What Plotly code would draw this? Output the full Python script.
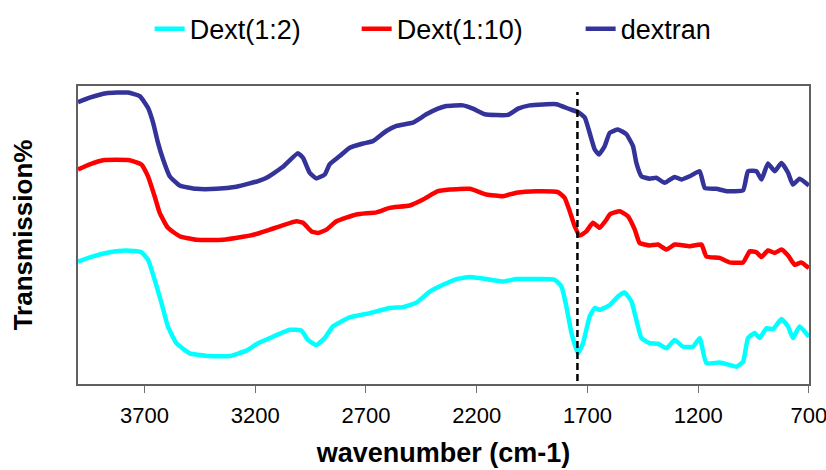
import plotly.graph_objects as go

# FTIR spectra: wavenumber (cm-1) vs. relative transmission (offset traces)
dext12_wn = [4000, 3932, 3857, 3781, 3714, 3684, 3654, 3623, 3594, 3556, 3496, 3405,
             3315, 3240, 3187, 3134, 3044, 2991, 2962, 2924, 2886, 2849, 2773, 2683,
             2593, 2533, 2472, 2412, 2352, 2291, 2231, 2156, 2081, 2021, 1930, 1848,
             1817, 1795, 1772, 1743, 1720, 1690, 1667, 1645, 1599, 1562, 1532, 1501,
             1479, 1456, 1419, 1381, 1343, 1306, 1268, 1223, 1193, 1163, 1103, 1058,
             1027, 997, 975, 945, 922, 892, 862, 824, 794, 772, 742, 700]
dext12_t = [41.1, 42.8, 44.2, 44.8, 44.2, 41.7, 35.0, 27.1, 19.3, 13.7, 10.3, 9.4,
            9.4, 11.2, 13.7, 15.4, 18.2, 17.9, 14.8, 13.1, 15.4, 19.3, 22.4, 23.8,
            25.5, 25.8, 27.3, 31.0, 33.3, 35.2, 35.9, 35.2, 34.4, 35.2, 35.2, 35.0,
            32.7, 26.0, 17.1, 10.3, 13.7, 22.6, 25.5, 24.9, 26.5, 29.4, 30.7, 27.7,
            21.5, 15.4, 13.7, 13.5, 12.0, 14.8, 12.5, 12.5, 15.4, 7.0, 7.2, 6.4,
            5.8, 7.5, 15.4, 17.1, 15.4, 18.7, 18.4, 21.8, 19.3, 15.4, 19.3, 15.9]

dext110_wn = [4000, 3947, 3887, 3767, 3714, 3684, 3654, 3631, 3594, 3541, 3465, 3345,
              3255, 3225, 3187, 3134, 3014, 2984, 2946, 2916, 2878, 2833, 2743, 2653,
              2593, 2502, 2442, 2375, 2322, 2231, 2156, 2081, 2021, 1930, 1833, 1803,
              1780, 1757, 1735, 1705, 1675, 1645, 1614, 1599, 1554, 1517, 1486, 1464,
              1419, 1381, 1343, 1306, 1238, 1185, 1163, 1103, 1058, 997, 967, 937,
              914, 885, 854, 824, 794, 764, 734, 700]
dext110_t = [72.0, 73.7, 75.1, 75.1, 73.7, 69.7, 63.0, 57.4, 52.4, 49.6, 48.4, 48.4,
             49.4, 49.8, 50.5, 51.8, 54.6, 54.1, 51.2, 50.7, 51.8, 54.6, 56.9, 57.6,
             59.1, 59.9, 61.9, 64.7, 65.3, 65.5, 63.6, 63.0, 64.2, 64.7, 64.4, 62.5,
             58.0, 52.9, 49.8, 51.2, 54.1, 52.4, 55.2, 56.9, 58.0, 56.3, 51.8, 47.3,
             46.5, 46.8, 45.1, 46.8, 46.2, 46.8, 42.8, 42.3, 40.8, 40.8, 44.5, 44.2,
             42.6, 44.8, 44.0, 45.1, 43.1, 40.0, 40.8, 38.9]

dextran_wn = [4000, 3947, 3872, 3774, 3721, 3684, 3661, 3639, 3616, 3586, 3541, 3465,
              3375, 3285, 3225, 3187, 3149, 3074, 3007, 2984, 2954, 2924, 2886, 2864,
              2818, 2773, 2713, 2668, 2608, 2562, 2488, 2427, 2375, 2337, 2262, 2217,
              2164, 2059, 2013, 1961, 1840, 1780, 1743, 1712, 1690, 1667, 1648, 1622,
              1599, 1562, 1524, 1494, 1479, 1456, 1419, 1389, 1351, 1306, 1276, 1238,
              1193, 1170, 1118, 1072, 997, 975, 937, 914, 885, 854, 824, 794,
              772, 742, 700]
dextran_t = [94.6, 96.1, 97.6, 97.8, 96.6, 92.7, 87.7, 81.0, 75.4, 69.7, 66.6, 65.5,
             65.5, 66.2, 67.3, 68.1, 69.2, 72.9, 77.4, 75.9, 70.9, 69.0, 70.3, 73.7,
             76.5, 79.3, 80.7, 81.5, 84.9, 86.6, 87.7, 90.5, 92.4, 93.3, 93.5, 92.4,
             90.5, 90.3, 92.4, 93.5, 93.9, 92.2, 91.3, 89.4, 84.3, 78.7, 77.0, 79.8,
             84.3, 85.4, 83.8, 79.8, 74.2, 69.7, 68.9, 69.2, 67.5, 69.5, 68.6, 69.7,
             71.4, 65.8, 65.5, 64.7, 65.0, 71.4, 71.4, 68.6, 74.0, 71.4, 74.2, 70.9,
             66.9, 68.9, 66.6]

x_ticks = [3700, 3200, 2700, 2200, 1700, 1200, 700]
carbonyl_wn = 1745  # reference line at the C=O band

FONT = "Liberation Sans, Arial, sans-serif"
LINE = dict(width=4.5, shape="spline", smoothing=0.4)

fig = go.Figure()
fig.add_trace(go.Scatter(x=dext12_wn, y=dext12_t, mode="lines", name="Dext(1:2)",
                         line=dict(color="#00FFFF", **LINE), legendwidth=162))
fig.add_trace(go.Scatter(x=dext110_wn, y=dext110_t, mode="lines", name="Dext(1:10)",
                         line=dict(color="#FF0000", **LINE), legendwidth=179))
fig.add_trace(go.Scatter(x=dextran_wn, y=dextran_t, mode="lines", name="dextran",
                         line=dict(color="#333399", **LINE)))

fig.add_shape(type="line", xref="x", yref="paper", x0=carbonyl_wn, x1=carbonyl_wn,
              y0=0.01, y1=0.98, line=dict(color="black", width=2.5, dash="7px,4px"))

fig.update_layout(
    width=826, height=470,
    margin=dict(l=78, r=17, t=86, b=86, autoexpand=False),
    paper_bgcolor="white", plot_bgcolor="white",
    font=dict(family=FONT, color="black"),
    showlegend=True,
    legend=dict(orientation="h", x=0.098, xanchor="left", y=1.273, yanchor="top",
                font=dict(size=27, family=FONT), bgcolor="rgba(0,0,0,0)"),
    xaxis=dict(range=[4000, 699.5], tickvals=x_ticks, ticks="outside", ticklen=7,
               tickcolor="#707070", tickfont=dict(size=22), ticklabeloverflow="allow",
               ticklabelstandoff=4, showgrid=False, zeroline=False,
               showline=True, linecolor="#606060", linewidth=1.5, mirror=True,
               title=dict(text="<b>wavenumber (cm-1)</b>", font=dict(size=27), standoff=16)),
    yaxis=dict(range=[0, 100], showticklabels=False, ticks="", showgrid=False, zeroline=False,
               showline=True, linecolor="#606060", linewidth=1.5, mirror=True,
               title=dict(text="<b>Transmission%</b>", font=dict(size=26), standoff=36)),
)

fig.write_html("out.html")
